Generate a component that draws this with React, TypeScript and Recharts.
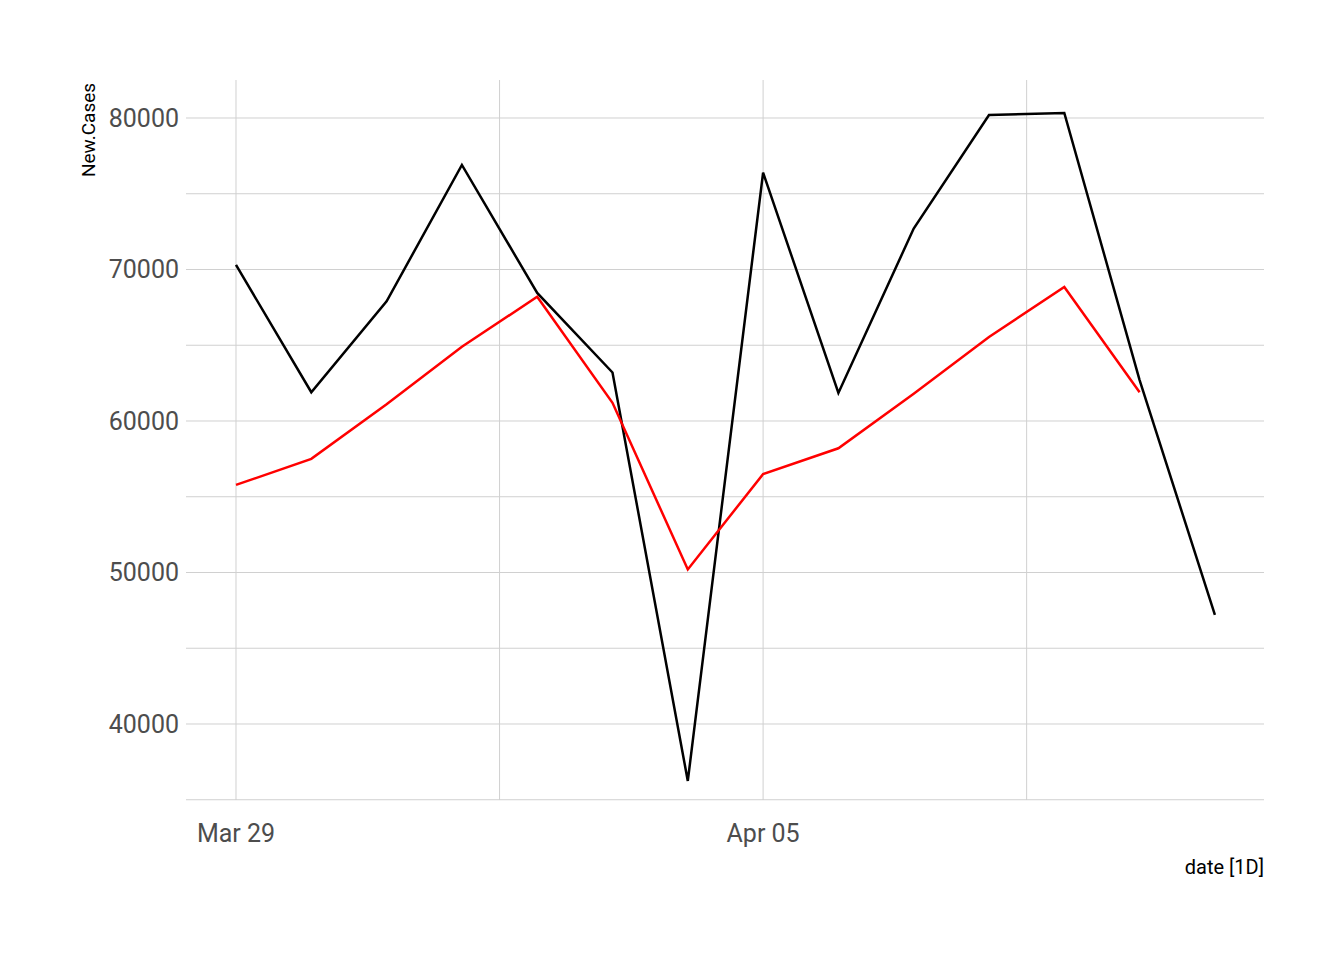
import React from 'react';
import { LineChart, Line, XAxis, YAxis, CartesianGrid } from 'recharts';

const days = [0, 1, 2, 3, 4, 5, 6, 7, 8, 9, 10, 11, 12, 13];
const newCases = [70300, 61900, 67900, 76900, 68450, 63200, 36240, 76400, 61850, 72700, 80200, 80330, 62700, 47200];
const smoothed = [55780, 57500, 61100, 64900, 68200, 61200, 50200, 56500, 58200, 61800, 65550, 68850, 61900, null];
const xTicks = [0, 3.5, 7, 10.5];
const xLabels: Record<number, string> = { 0: 'Mar 29', 7: 'Apr 05' };
const yTicks = [35000, 40000, 45000, 50000, 55000, 60000, 65000, 70000, 75000, 80000];

const data = days.map((d, i) => ({ d, cases: newCases[i], smooth: smoothed[i] }));

export default function App() {
  const font = 'Roboto, "Liberation Sans", sans-serif';
  return (
    <div style={{ position: 'absolute', left: 0, top: 0, width: 1344, height: 960, background: '#fff', fontFamily: font }}>
      <LineChart width={1344} height={960} data={data} margin={{ top: 80, right: 80, bottom: 0, left: 0 }}>
        <CartesianGrid stroke="#d0d0d0" strokeWidth={1} syncWithTicks />
        <XAxis
          dataKey="d"
          type="number"
          domain={[-0.664, 13.652]}
          ticks={xTicks}
          tickFormatter={(v: number) => xLabels[v] ?? ''}
          axisLine={false}
          tickLine={false}
          tickSize={0}
          tickMargin={24}
          height={160}
          tick={{ fontSize: 25, fill: '#4d4d4d', fontFamily: font }}
          allowDataOverflow
        />
        <YAxis
          type="number"
          domain={[34983, 82508]}
          ticks={yTicks}
          tickFormatter={(v: number) => (v % 10000 === 0 ? String(v) : '')}
          axisLine={false}
          tickLine={false}
          tickSize={0}
          tickMargin={7}
          width={186}
          tick={{ fontSize: 25, fill: '#4d4d4d', fontFamily: font }}
          allowDataOverflow
        />
        <Line dataKey="cases" stroke="#000" strokeWidth={2.5} dot={false} isAnimationActive={false} />
        <Line dataKey="smooth" stroke="#ff0000" strokeWidth={2.5} dot={false} isAnimationActive={false} connectNulls={false} />
      </LineChart>
      <div style={{ position: 'absolute', left: 89 - 60, top: 130 - 12, width: 120, height: 24, transform: 'rotate(-90deg)', textAlign: 'center', fontSize: 19, color: '#000', lineHeight: '24px' }}>
        New.Cases
      </div>
      <div style={{ position: 'absolute', right: 80, top: 855, fontSize: 20, color: '#000' }}>date [1D]</div>
    </div>
  );
}
